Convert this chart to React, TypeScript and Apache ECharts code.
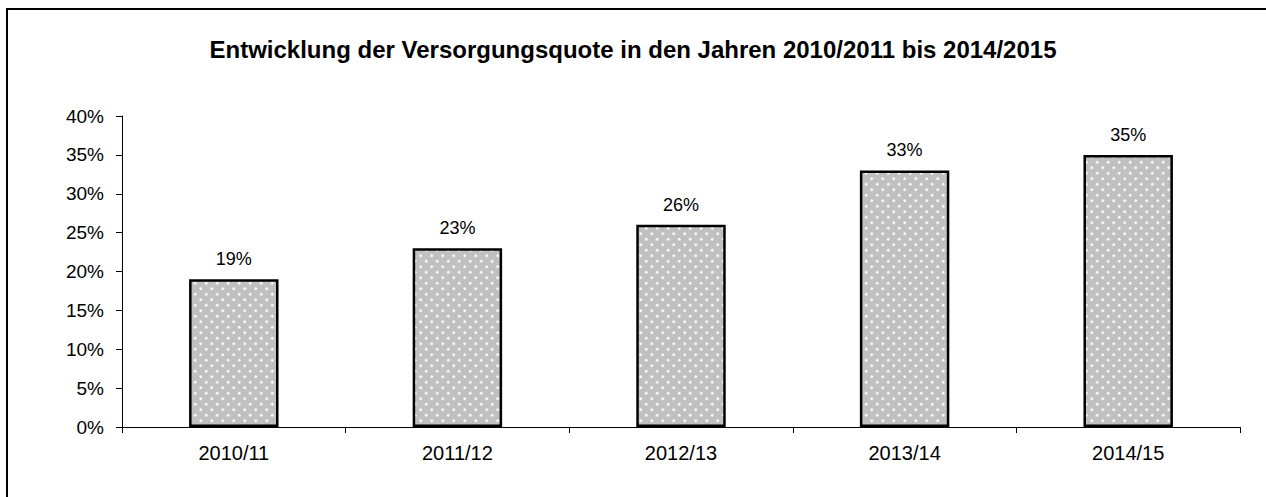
import React, { useEffect, useRef } from "react";
import * as echarts from "echarts";

const titleText = "Entwicklung der Versorgungsquote in den Jahren 2010/2011 bis 2014/2015";
const categories = ["2010/11", "2011/12", "2012/13", "2013/14", "2014/15"];
const quoteValues = [19, 23, 26, 33, 35];
const yTicks = [0, 5, 10, 15, 20, 25, 30, 35, 40];

const FONT = "Liberation Sans, Arial, sans-serif";

function makePattern(): HTMLCanvasElement {
  const c = document.createElement("canvas");
  c.width = 11;
  c.height = 11;
  const ctx = c.getContext("2d")!;
  ctx.fillStyle = "#c0c0c0";
  ctx.fillRect(0, 0, 11, 11);
  const dot = (x: number, y: number) => {
    ctx.fillStyle = "rgba(255,255,255,0.5)";
    ctx.beginPath();
    ctx.arc(x, y, 1.7, 0, Math.PI * 2);
    ctx.fill();
    ctx.fillStyle = "#ffffff";
    ctx.beginPath();
    ctx.arc(x, y, 1.0, 0, Math.PI * 2);
    ctx.fill();
  };
  dot(2.75, 2.75);
  dot(8.25, 8.25);
  return c;
}

export default function App() {
  const ref = useRef<HTMLDivElement>(null);
  useEffect(() => {
    if (!ref.current) return;
    const chart = echarts.init(ref.current, null, { renderer: "svg" });
    const pattern = makePattern();
    chart.setOption({
      animation: false,
      backgroundColor: "#ffffff",
      textStyle: { fontFamily: FONT },
      title: {
        text: titleText,
        left: "center",
        top: 32,
        textStyle: {
          fontSize: 24,
          fontWeight: "bold",
          color: "#000",
          fontFamily: FONT,
        },
      },
      graphic: [
        {
          type: "rect",
          shape: { x: 7, y: 9, width: 1400, height: 700 },
          style: { fill: "none", stroke: "#000", lineWidth: 2 },
          silent: true,
          z: 100,
        },
      ],
      grid: { left: 122, right: 26, top: 116, bottom: 70, containLabel: false },
      xAxis: {
        type: "category",
        data: categories,
        axisLine: { lineStyle: { color: "#000", width: 1 } },
        axisTick: { show: true, alignWithLabel: false, length: 6, lineStyle: { color: "#000" } },
        axisLabel: { color: "#000", fontSize: 20, margin: 16, fontFamily: FONT },
      },
      yAxis: {
        type: "value",
        min: yTicks[0],
        max: yTicks[yTicks.length - 1],
        interval: 5,
        axisLine: { show: true, lineStyle: { color: "#000", width: 1 } },
        axisTick: { show: true, length: 6, lineStyle: { color: "#000" } },
        splitLine: { show: false },
        axisLabel: {
          color: "#000",
          fontSize: 19,
          margin: 18,
          formatter: "{value}%",
          fontFamily: FONT,
        },
      },
      series: [
        {
          type: "bar",
          data: quoteValues,
          barWidth: "40%",
          itemStyle: {
            color: { image: pattern, repeat: "repeat", imageWidth: 11, imageHeight: 11 } as any,
            borderColor: "#000",
            borderWidth: 2.5,
          },
          label: {
            show: true,
            position: "top",
            distance: 11,
            formatter: "{c}%",
            color: "#000",
            fontSize: 18,
            fontFamily: FONT,
          },
        },
      ],
    });
    return () => chart.dispose();
  }, []);
  return (
    <div
      ref={ref}
      style={{ position: "absolute", left: 0, top: 0, width: 1266, height: 497 }}
    />
  );
}
